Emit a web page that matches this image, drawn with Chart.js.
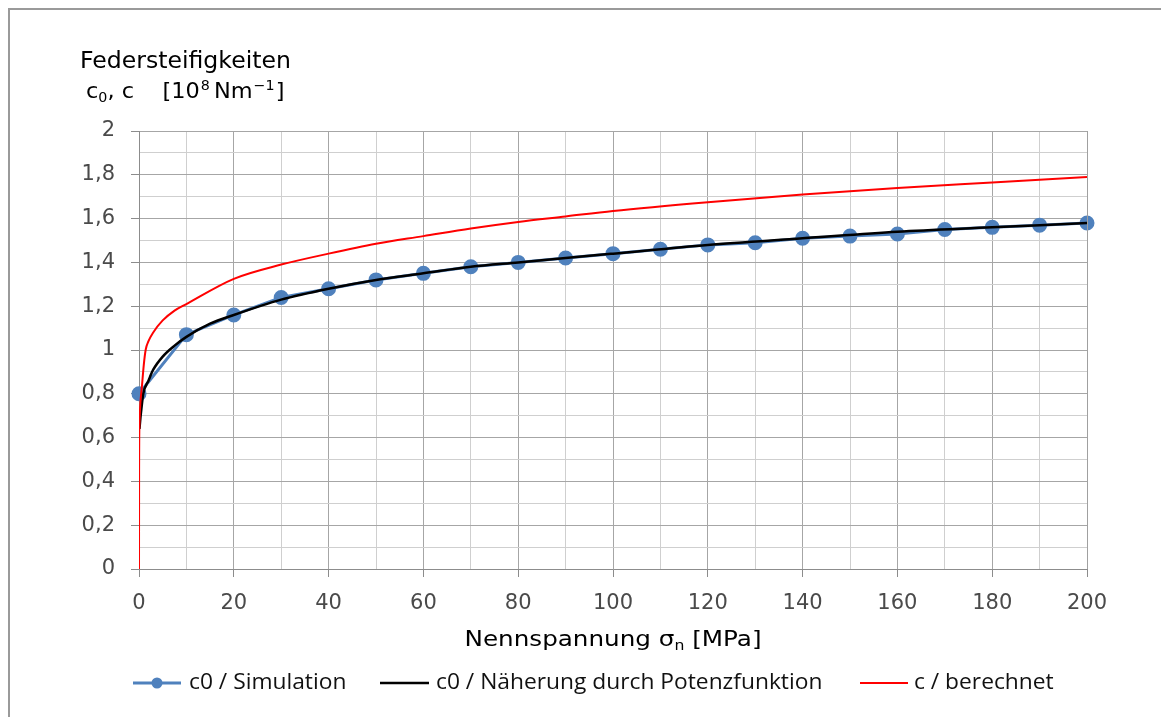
<!DOCTYPE html>
<html>
<head>
<meta charset="utf-8">
<script src="https://cdn.jsdelivr.net/npm/chart.js@4.4.1/dist/chart.umd.min.js"></script>
<style>
  html, body { margin: 0; padding: 0; background: #ffffff; }
  #wrap { position: relative; width: 1161px; height: 717px; }
</style>
</head>
<body>
<div id="wrap"><canvas id="chart" width="1161" height="717"></canvas></div>
<script>
// Simulated spring stiffness c0 at each nominal stress step [MPa]
const simX = [0, 10, 20, 30, 40, 50, 60, 70, 80, 90, 100, 110, 120, 130, 140, 150, 160, 170, 180, 190, 200];
const simY = [0.80, 1.07, 1.16, 1.24, 1.28, 1.32, 1.35, 1.38, 1.40, 1.42, 1.44, 1.46, 1.48, 1.49, 1.51, 1.52, 1.53, 1.55, 1.56, 1.57, 1.58];

// Power-law approximation of c0
const fitX = [0.1, 0.3, 0.5, 0.9, 2, 3, 5, 7.5, 10, 15, 20, 30, 40, 50, 60, 70, 80, 90, 100, 120, 140, 160, 180, 200];
const fitY = [0.64, 0.69, 0.73, 0.80, 0.86, 0.91, 0.97, 1.02, 1.06, 1.12, 1.16, 1.23, 1.28, 1.32, 1.35, 1.38, 1.40, 1.42, 1.44, 1.48, 1.51, 1.54, 1.56, 1.58];

// Calculated spring stiffness c
const calcX = [0, 0.02, 0.1, 0.3, 0.6, 1, 1.4, 2, 3, 5, 7.5, 10, 20, 30, 40, 50, 60, 70, 80, 90, 100, 120, 140, 160, 180, 200];
const calcY = [0, 0.45, 0.66, 0.76, 0.83, 0.93, 1.00, 1.04, 1.08, 1.135, 1.18, 1.21, 1.325, 1.39, 1.44, 1.485, 1.52, 1.555, 1.585, 1.61, 1.635, 1.675, 1.71, 1.74, 1.765, 1.79];

const seriesLabels = ['c0 / Simulation', 'c0 / Näherung durch Potenzfunktion', 'c / berechnet'];
const xTickLabels = ['0', '20', '40', '60', '80', '100', '120', '140', '160', '180', '200'];
const yTickLabels = ['0', '0,2', '0,4', '0,6', '0,8', '1', '1,2', '1,4', '1,6', '1,8', '2'];

const toPoints = (xs, ys) => xs.map((x, i) => ({ x: x, y: ys[i] }));

const BLUE = '#4f81bd', BLACK = '#000000', RED = '#ff0000';
const TICK_FONT = { family: 'DejaVu Sans', size: 21 };

// draw text with a horizontal stretch; returns the advance width
function stretchText(ctx, text, x, y, sx) {
  ctx.save();
  ctx.translate(x, y);
  ctx.scale(sx, 1);
  ctx.fillText(text, 0, 0);
  const w = ctx.measureText(text).width * sx;
  ctx.restore();
  return w;
}

// Titles, frame and legend drawn on the canvas
const decorations = {
  id: 'decorations',
  beforeDraw(chart) {
    const ctx = chart.ctx;
    ctx.save();
    ctx.fillStyle = '#ffffff';
    ctx.fillRect(0, 0, chart.width, chart.height);
    ctx.strokeStyle = '#9a9a9a';
    ctx.lineWidth = 2;
    ctx.beginPath();
    ctx.moveTo(9, chart.height);
    ctx.lineTo(9, 9);
    ctx.lineTo(chart.width, 9);
    ctx.stroke();
    ctx.restore();
  },
  afterDraw(chart) {
    const ctx = chart.ctx;
    const area = chart.chartArea;
    ctx.save();
    ctx.fillStyle = '#000000';
    ctx.textBaseline = 'alphabetic';
    ctx.textAlign = 'left';

    // right frame of the plot area
    ctx.strokeStyle = '#a0a0a0';
    ctx.lineWidth = 1;
    ctx.beginPath();
    ctx.moveTo(Math.round(area.right) + 0.5, area.top);
    ctx.lineTo(Math.round(area.right) + 0.5, area.bottom);
    ctx.stroke();

    // y-axis title (two lines above the axis)
    ctx.font = '23px "DejaVu Sans"';
    stretchText(ctx, 'Federsteifigkeiten', 80, 68, 1.025);
    let x = 86;
    const y2 = 98;
    ctx.font = '22px "DejaVu Sans"';
    x += stretchText(ctx, 'c', x, y2, 1.02);
    ctx.font = '14px "DejaVu Sans"';
    x += stretchText(ctx, '0', x, y2 + 4, 1.02);
    ctx.font = '22px "DejaVu Sans"';
    x += stretchText(ctx, ', c    [10', x, y2, 1.02);
    ctx.font = '14px "DejaVu Sans"';
    x += stretchText(ctx, '8', x + 1, y2 - 8, 1.02) + 5;
    ctx.font = '22px "DejaVu Sans"';
    x += stretchText(ctx, 'Nm', x, y2, 1.02);
    ctx.font = '14px "DejaVu Sans"';
    x += stretchText(ctx, '\u22121', x + 1, y2 - 8, 1.02) + 2;
    ctx.font = '22px "DejaVu Sans"';
    stretchText(ctx, ']', x, y2, 1.02);

    // x-axis title
    const SX = 1.12;
    ctx.font = '22px "DejaVu Sans"';
    const p1 = 'Nennspannung \u03c3';
    const p3 = ' [MPa]';
    const w1 = ctx.measureText(p1).width * SX;
    const w3 = ctx.measureText(p3).width * SX;
    ctx.font = '14px "DejaVu Sans"';
    const w2 = ctx.measureText('n').width * SX;
    const cx = (area.left + area.right) / 2;
    let tx = cx - (w1 + w2 + w3) / 2;
    const ty = 646;
    ctx.font = '22px "DejaVu Sans"';
    tx += stretchText(ctx, p1, tx, ty, SX);
    ctx.font = '14px "DejaVu Sans"';
    tx += stretchText(ctx, 'n', tx, ty + 4, SX);
    ctx.font = '22px "DejaVu Sans"';
    stretchText(ctx, p3, tx, ty, SX);

    // legend
    const ly = 683;
    const entries = [
      { color: BLUE, width: 3, marker: true, x0: 133, x1: 181, tx: 189 },
      { color: BLACK, width: 2.5, marker: false, x0: 380, x1: 429, tx: 436 },
      { color: RED, width: 2, marker: false, x0: 860, x1: 908, tx: 914 }
    ];
    entries.forEach((e, i) => {
      ctx.strokeStyle = e.color;
      ctx.lineWidth = e.width;
      ctx.beginPath();
      ctx.moveTo(e.x0, ly);
      ctx.lineTo(e.x1, ly);
      ctx.stroke();
      if (e.marker) {
        ctx.fillStyle = e.color;
        ctx.beginPath();
        ctx.arc((e.x0 + e.x1) / 2, ly, 5.5, 0, Math.PI * 2);
        ctx.fill();
      }
      ctx.fillStyle = '#111111';
      ctx.font = '21px "Open Sans"';
      ctx.textBaseline = 'middle';
      stretchText(ctx, chart.data.datasets[i].label, e.tx, ly, 1.085);
    });
    ctx.restore();
  }
};

new Chart(document.getElementById('chart'), {
  type: 'line',
  data: {
    datasets: [
      {
        label: seriesLabels[0],
        data: toPoints(simX, simY),
        borderColor: BLUE,
        backgroundColor: BLUE,
        borderWidth: 3,
        pointRadius: 6,
        pointBackgroundColor: BLUE,
        pointBorderColor: BLUE,
        tension: 0,
        clip: false,
        order: 3
      },
      {
        label: seriesLabels[1],
        data: toPoints(fitX, fitY),
        borderColor: BLACK,
        borderWidth: 2.5,
        pointRadius: 0,
        cubicInterpolationMode: 'monotone',
        order: 2
      },
      {
        label: seriesLabels[2],
        data: toPoints(calcX, calcY),
        borderColor: RED,
        borderWidth: 2,
        pointRadius: 0,
        cubicInterpolationMode: 'monotone',
        order: 1
      }
    ]
  },
  options: {
    responsive: false,
    animation: false,
    events: [],
    layout: { padding: { top: 131, right: 74, bottom: 0, left: 0 } },
    plugins: { legend: { display: false }, title: { display: false }, tooltip: { enabled: false } },
    scales: {
      x: {
        type: 'linear',
        min: 0, max: 200,
        afterFit(scale) { scale.height = 148; },
        border: { color: '#8c8c8c', width: 1 },
        grid: {
          color: (c) => (Math.round(c.tick.value) % 20 === 0 ? '#a6a6a6' : '#cfcfcf'),
          tickColor: (c) => (Math.round(c.tick.value) % 20 === 0 ? '#8c8c8c' : 'rgba(0,0,0,0)'),
          tickLength: 8,
          drawTicks: true
        },
        ticks: {
          stepSize: 10,
          autoSkip: false,
          maxRotation: 0,
          padding: 14,
          color: '#4a4a4a',
          font: TICK_FONT,
          callback: (v, i) => (i % 2 === 0 ? xTickLabels[i / 2] : '')
        }
      },
      y: {
        type: 'linear',
        min: 0, max: 2,
        afterFit(scale) { scale.width = 139; },
        border: { color: '#8c8c8c', width: 1 },
        grid: {
          color: (c) => (Math.round(c.tick.value * 10) % 2 === 0 ? '#a6a6a6' : '#cfcfcf'),
          tickColor: (c) => (Math.round(c.tick.value * 10) % 2 === 0 ? '#8c8c8c' : 'rgba(0,0,0,0)'),
          tickLength: 8,
          drawTicks: true
        },
        ticks: {
          stepSize: 0.1,
          autoSkip: false,
          padding: 16,
          color: '#4a4a4a',
          font: TICK_FONT,
          callback: (v, i) => (i % 2 === 0 ? yTickLabels[i / 2] : '')
        }
      }
    }
  },
  plugins: [decorations]
});
</script>
</body>
</html>
